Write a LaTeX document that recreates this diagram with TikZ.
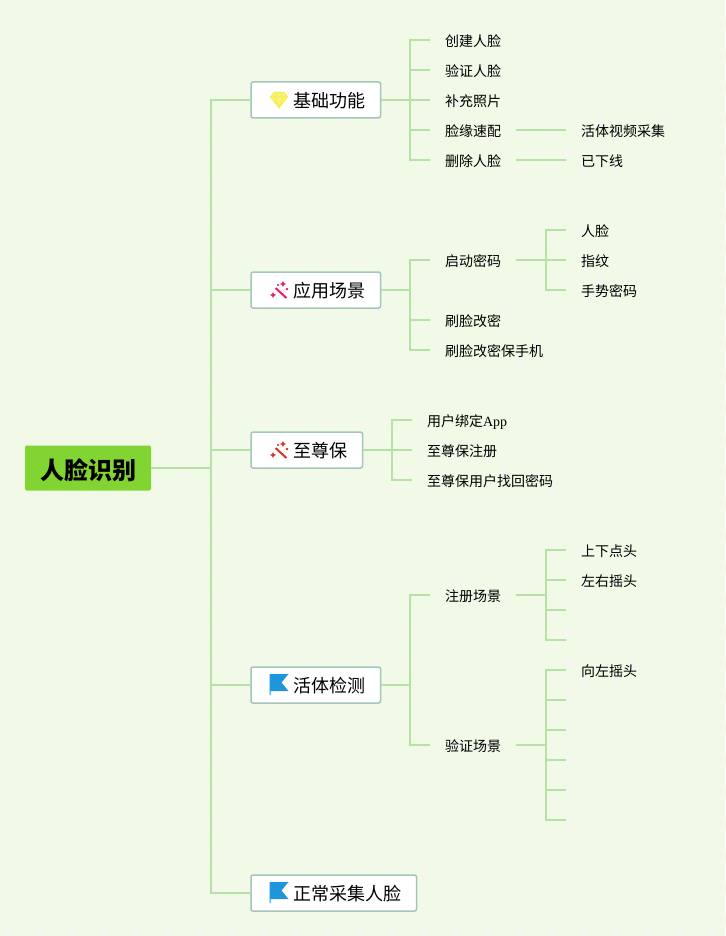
\documentclass[tikz,border=0pt]{standalone}
\usepackage{fontspec}
\setmainfont{Noto Sans CJK SC}
\newfontfamily\latinfont{Liberation Serif}
\usetikzlibrary{arrows.meta, positioning}

\definecolor{paper}{HTML}{F0FAE6}
\definecolor{paperdot}{HTML}{F3F7EC}
\definecolor{linkgreen}{HTML}{B6E2A6}
\definecolor{rootgreen}{HTML}{82D432}
\definecolor{topicedge}{HTML}{A4C6B9}
\definecolor{gemyellow}{HTML}{F7EC4A}
\definecolor{flagblue}{HTML}{1F96DC}
\definecolor{wandpink}{HTML}{E8215F}
\definecolor{wandred}{HTML}{D5352B}

\tikzset{
  gem/.pic={
    \draw[gemyellow, line width=1pt, line join=round, fill=gemyellow!70]
      (-5,-7.5) -- (5,-7.5) -- (8.5,-3) -- (0,7.5) -- (-8.5,-3) -- cycle;
    \draw[gemyellow, line width=1pt] (-8.5,-3) -- (8.5,-3) (-4,-3) -- (0,7.5) -- (4,-3)
      (-4,-3) -- (-2,-7.5) (4,-3) -- (2,-7.5);
  },
  wand/.pic={
    \draw[line width=2pt, pic actions] (-3.5,-2) -- (7.5,8);
    \fill[pic actions] (4,-8.5) -- (4.8,-6.8) -- (6.5,-6) -- (4.8,-5.2) -- (4,-3.5) -- (3.2,-5.2) -- (1.5,-6) -- (3.2,-6.8) -- cycle;
    \fill[pic actions] (-6,2.5) -- (-5.2,4.2) -- (-3.5,5) -- (-5.2,5.8) -- (-6,7.5) -- (-6.8,5.8) -- (-8.5,5) -- (-6.8,4.2) -- cycle;
    \fill[pic actions] (8,-1) circle (1);
    \fill[pic actions] (-1,-5) circle (.8);
  },
  flag/.pic={
    \fill[flagblue] (-9.5,-11) -- (9.5,-11) -- (2.5,-2.5) -- (9.5,6) -- (-8.5,6) -- (-8.5,10) -- (-9.5,10) -- cycle;
  }
}

\begin{document}
\begin{tikzpicture}[
  x=1pt, y=-1pt,
  root/.style={rectangle, rounded corners=2pt, fill=rootgreen, font=\fontsize{24}{24}\selectfont\bfseries,
    text height=23pt, text depth=.8pt, minimum width=126pt, minimum height=45pt, inner sep=0pt},
  topic/.style={rectangle, rounded corners=2pt, draw=topicedge, line width=1.5pt, fill=white, anchor=west,
    font=\fontsize{18}{18}\selectfont, text height=17pt, text depth=2.4pt,
    minimum height=36pt, inner xsep=14.75pt, inner ysep=0pt, outer sep=0pt},
  leaf/.style={rectangle, anchor=west, font=\fontsize{14}{14}\selectfont, text height=14pt, text depth=1.4pt,
    minimum height=30pt, inner xsep=15pt, inner ysep=0pt, outer sep=0pt},
  under/.style={below=0pt of #1.south west, anchor=north west},
  link/.style={draw=linkgreen, line width=2pt}
]
\useasboundingbox (0,0) rectangle (725,936);
\fill[paper] (0,0) rectangle (725,936);
% dotted paper
\foreach \i in {0,...,22}
  \foreach \j in {0,...,29} {
    \fill[paperdot, rounded corners=2pt] (3.5+32*\i,3.5+32*\j) rectangle ++(9,9);
    \fill[paperdot, rounded corners=2pt] (19.5+32*\i,19.5+32*\j) rectangle ++(9,9);
  }

\node[root] (root) at (88,468) {人脸识别};
\node[topic] (jichu) at (251,100) {\hspace{28pt}基础功能};
\node[topic] (yingyong) at (251,290) {\hspace{28pt}应用场景};
\node[topic] (zhizun) at (251,450) {\hspace{28pt}至尊保};
\node[topic] (huoti) at (251,685) {\hspace{28pt}活体检测};
\node[topic] (zhengchang) at (251,893) {\hspace{28pt}正常采集人脸};

\pic at ([xshift=28pt]jichu.west) {gem};
\pic[draw=wandpink, fill=wandpink] at ([xshift=28pt]yingyong.west) {wand};
\pic[draw=wandred, fill=wandred] at ([xshift=28pt]zhizun.west) {wand};
\pic at ([xshift=28pt]huoti.west) {flag};
\pic at ([xshift=28pt]zhengchang.west) {flag};

% jichu
\node[leaf] (a1) at (430,40) {创建人脸};
\node[leaf, under=a1] (a2) {验证人脸};
\node[leaf, under=a2] (a3) {补充照片};
\node[leaf, under=a3] (a4) {脸缘速配};
\node[leaf, under=a4] (a5) {删除人脸};
\node[leaf, right=50pt of a4] (a41) {活体视频采集};
\node[leaf, right=50pt of a5] (a51) {已下线};

% yingyong
\node[leaf] (b1) at (430,260) {启动密码};
\node[leaf, below=30pt of b1.south west, anchor=north west] (b2) {刷脸改密};
\node[leaf, under=b2] (b3) {刷脸改密保手机};
\node[leaf] (b11) at (566,230) {人脸};
\node[leaf, under=b11] (b12) {指纹};
\node[leaf, under=b12] (b13) {手势密码};

% zhizun
\node[leaf] (c1) at (412,420) {用户绑定{\latinfont App}};
\node[leaf, under=c1] (c2) {至尊保注册};
\node[leaf, under=c2] (c3) {至尊保用户找回密码};

% huoti
\node[leaf] (d1) at (430,595) {注册场景};
\node[leaf] (d2) at (430,745) {验证场景};
\node[leaf] (d11) at (566,550) {上下点头};
\node[leaf, under=d11] (d12) {左右摇头};
\node[leaf, under=d12] (d13) {};
\node[leaf, under=d13] (d14) {};
\node[leaf] (d21) at (566,670) {向左摇头};
\node[leaf, under=d21] (d22) {};
\node[leaf, under=d22] (d23) {};
\node[leaf, under=d23] (d24) {};
\node[leaf, under=d24] (d25) {};
\node[leaf, under=d25] (d26) {};

\coordinate (rootbus) at (211,468);
\coordinate (jichubus) at (410,100);
\coordinate (yingyongbus) at (410,290);
\coordinate (zhizunbus) at (392,450);
\coordinate (huotibus) at (410,685);
\coordinate (b1bus) at (546,260);
\coordinate (d1bus) at (546,595);
\coordinate (d2bus) at (546,745);

\draw[link] (root.east) -- (rootbus);
\foreach \n in {jichu,yingyong,zhizun,huoti,zhengchang}
  \draw[link] (rootbus) |- (\n.west);

\draw[link] (jichu.east) -- (jichubus);
\foreach \n in {a1,a2,a3,a4,a5}
  \draw[link] (jichubus) |- (\n.west);
\draw[link] (a4.east) -- (a41.west);
\draw[link] (a5.east) -- (a51.west);

\draw[link] (yingyong.east) -- (yingyongbus);
\foreach \n in {b1,b2,b3}
  \draw[link] (yingyongbus) |- (\n.west);
\draw[link] (b1.east) -- (b1bus);
\foreach \n in {b11,b12,b13}
  \draw[link] (b1bus) |- (\n.west);

\draw[link] (zhizun.east) -- (zhizunbus);
\foreach \n in {c1,c2,c3}
  \draw[link] (zhizunbus) |- (\n.west);

\draw[link] (huoti.east) -- (huotibus);
\foreach \n in {d1,d2}
  \draw[link] (huotibus) |- (\n.west);
\draw[link] (d1.east) -- (d1bus);
\foreach \n in {d11,d12,d13,d14}
  \draw[link] (d1bus) |- (\n.west);
\draw[link] (d2.east) -- (d2bus);
\foreach \n in {d21,d22,d23,d24,d25,d26}
  \draw[link] (d2bus) |- (\n.west);
\end{tikzpicture}
\end{document}
